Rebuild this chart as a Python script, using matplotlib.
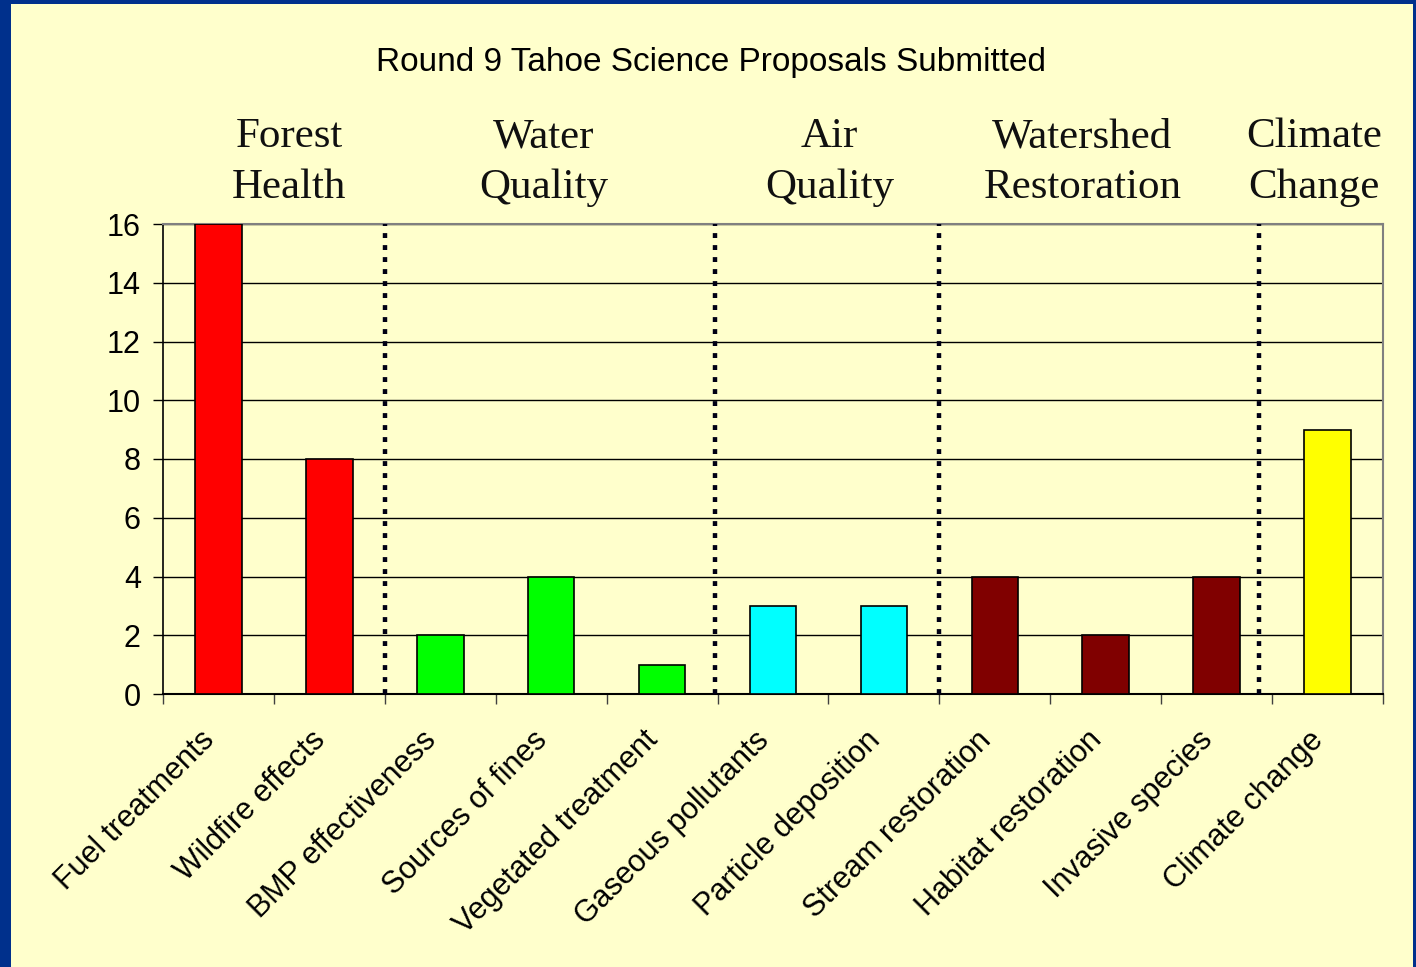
import numpy as np
import matplotlib
matplotlib.use('Agg')
import matplotlib.pyplot as plt
from matplotlib.patches import Rectangle
from matplotlib.transforms import ScaledTranslation

# ── Data ──────────────────────────────────────────────────────────────────────
categories = ['Fuel treatments', 'Wildfire effects', 'BMP effectiveness',
              'Sources of fines', 'Vegetated treatment', 'Gaseous pollutants',
              'Particle deposition', 'Stream restoration', 'Habitat restoration',
              'Invasive species', 'Climate change']
proposals = [16, 8, 2, 4, 1, 3, 3, 4, 2, 4, 9]
bar_colors = ['#FF0000', '#FF0000', '#00FF00', '#00FF00', '#00FF00',
              '#00FFFF', '#00FFFF', '#800000', '#800000', '#800000', '#FFFF00']

groups = ['Forest\nHealth', 'Water\nQuality', 'Air\nQuality',
          'Watershed\nRestoration', 'Climate\nChange']
group_x = [0.64, 2.93, 5.51, 7.79, 9.88]
separators = [1.5, 4.48, 6.5, 9.38]

TITLE = 'Round 9 Tahoe Science Proposals Submitted'

W, H = 1416, 967
fig = plt.figure(figsize=(W / 100, H / 100), dpi=100)
fig.patch.set_facecolor('#00308C')
# pale yellow slide panel inside the blue frame
fig.add_artist(Rectangle((11 / W, 0), (1413 - 11) / W, (H - 4) / H,
                         transform=fig.transFigure, facecolor='#FFFFCC',
                         edgecolor='none', zorder=-5))

ax = fig.add_axes([163 / W, 1 - 694 / H, (1383 - 163) / W, (694 - 224) / H])
ax.set_zorder(2)
ax.set_facecolor('#FFFFCC')

x = np.arange(len(categories))
ax.bar(x, proposals, width=0.42, color=bar_colors, edgecolor='black',
       linewidth=1.2, zorder=3)

ax.set_xlim(-0.5, len(categories) - 0.5)
ax.set_ylim(0, 16)
ax.set_yticks(np.arange(0, 17, 2))
ax.yaxis.grid(True, color='black', linewidth=1.0, zorder=1)
ax.set_axisbelow(True)

for xs in separators:
    ax.axvline(xs, color='#000015', linewidth=3.2, linestyle=(0, (1.1, 1.6)),
               dash_capstyle='butt', zorder=4)

for side in ['top', 'right']:
    ax.spines[side].set_color('#808080')
    ax.spines[side].set_linewidth(1.5)
ax.spines['left'].set_linewidth(1.2)
ax.spines['bottom'].set_linewidth(1.5)

ax.tick_params(axis='y', direction='out', length=7, width=1, pad=9,
               labelsize=22)
ax.set_yticklabels([str(v) for v in range(0, 17, 2)], family='Liberation Sans')

ax.set_xticks(x)
ax.set_xticklabels(categories, rotation=45, ha='right', va='center',
                   rotation_mode='anchor', family='Liberation Sans', fontsize=22)
ax.tick_params(axis='x', length=0, pad=30)
shift = ScaledTranslation(-6 / 72, 0, fig.dpi_scale_trans)
for lbl in ax.get_xticklabels():
    lbl.set_transform(lbl.get_transform() + shift)
ax.set_xticks(np.arange(-0.5, len(categories)), minor=True)
ax.tick_params(axis='x', which='minor', direction='out', length=7, width=1,
               color='#404040')

for gx, gname in zip(group_x, groups):
    ax.text(gx, 18.1, gname, ha='center', va='center', fontsize=31,
            family='Liberation Serif', color='#101010', linespacing=1.42,
            clip_on=False)

fig.text(711 / W, 1 - 63 / H, TITLE, ha='center', va='center', fontsize=24,
         family='Liberation Sans', color='black')

fig.savefig('out.png', dpi=100, facecolor=fig.get_facecolor())
